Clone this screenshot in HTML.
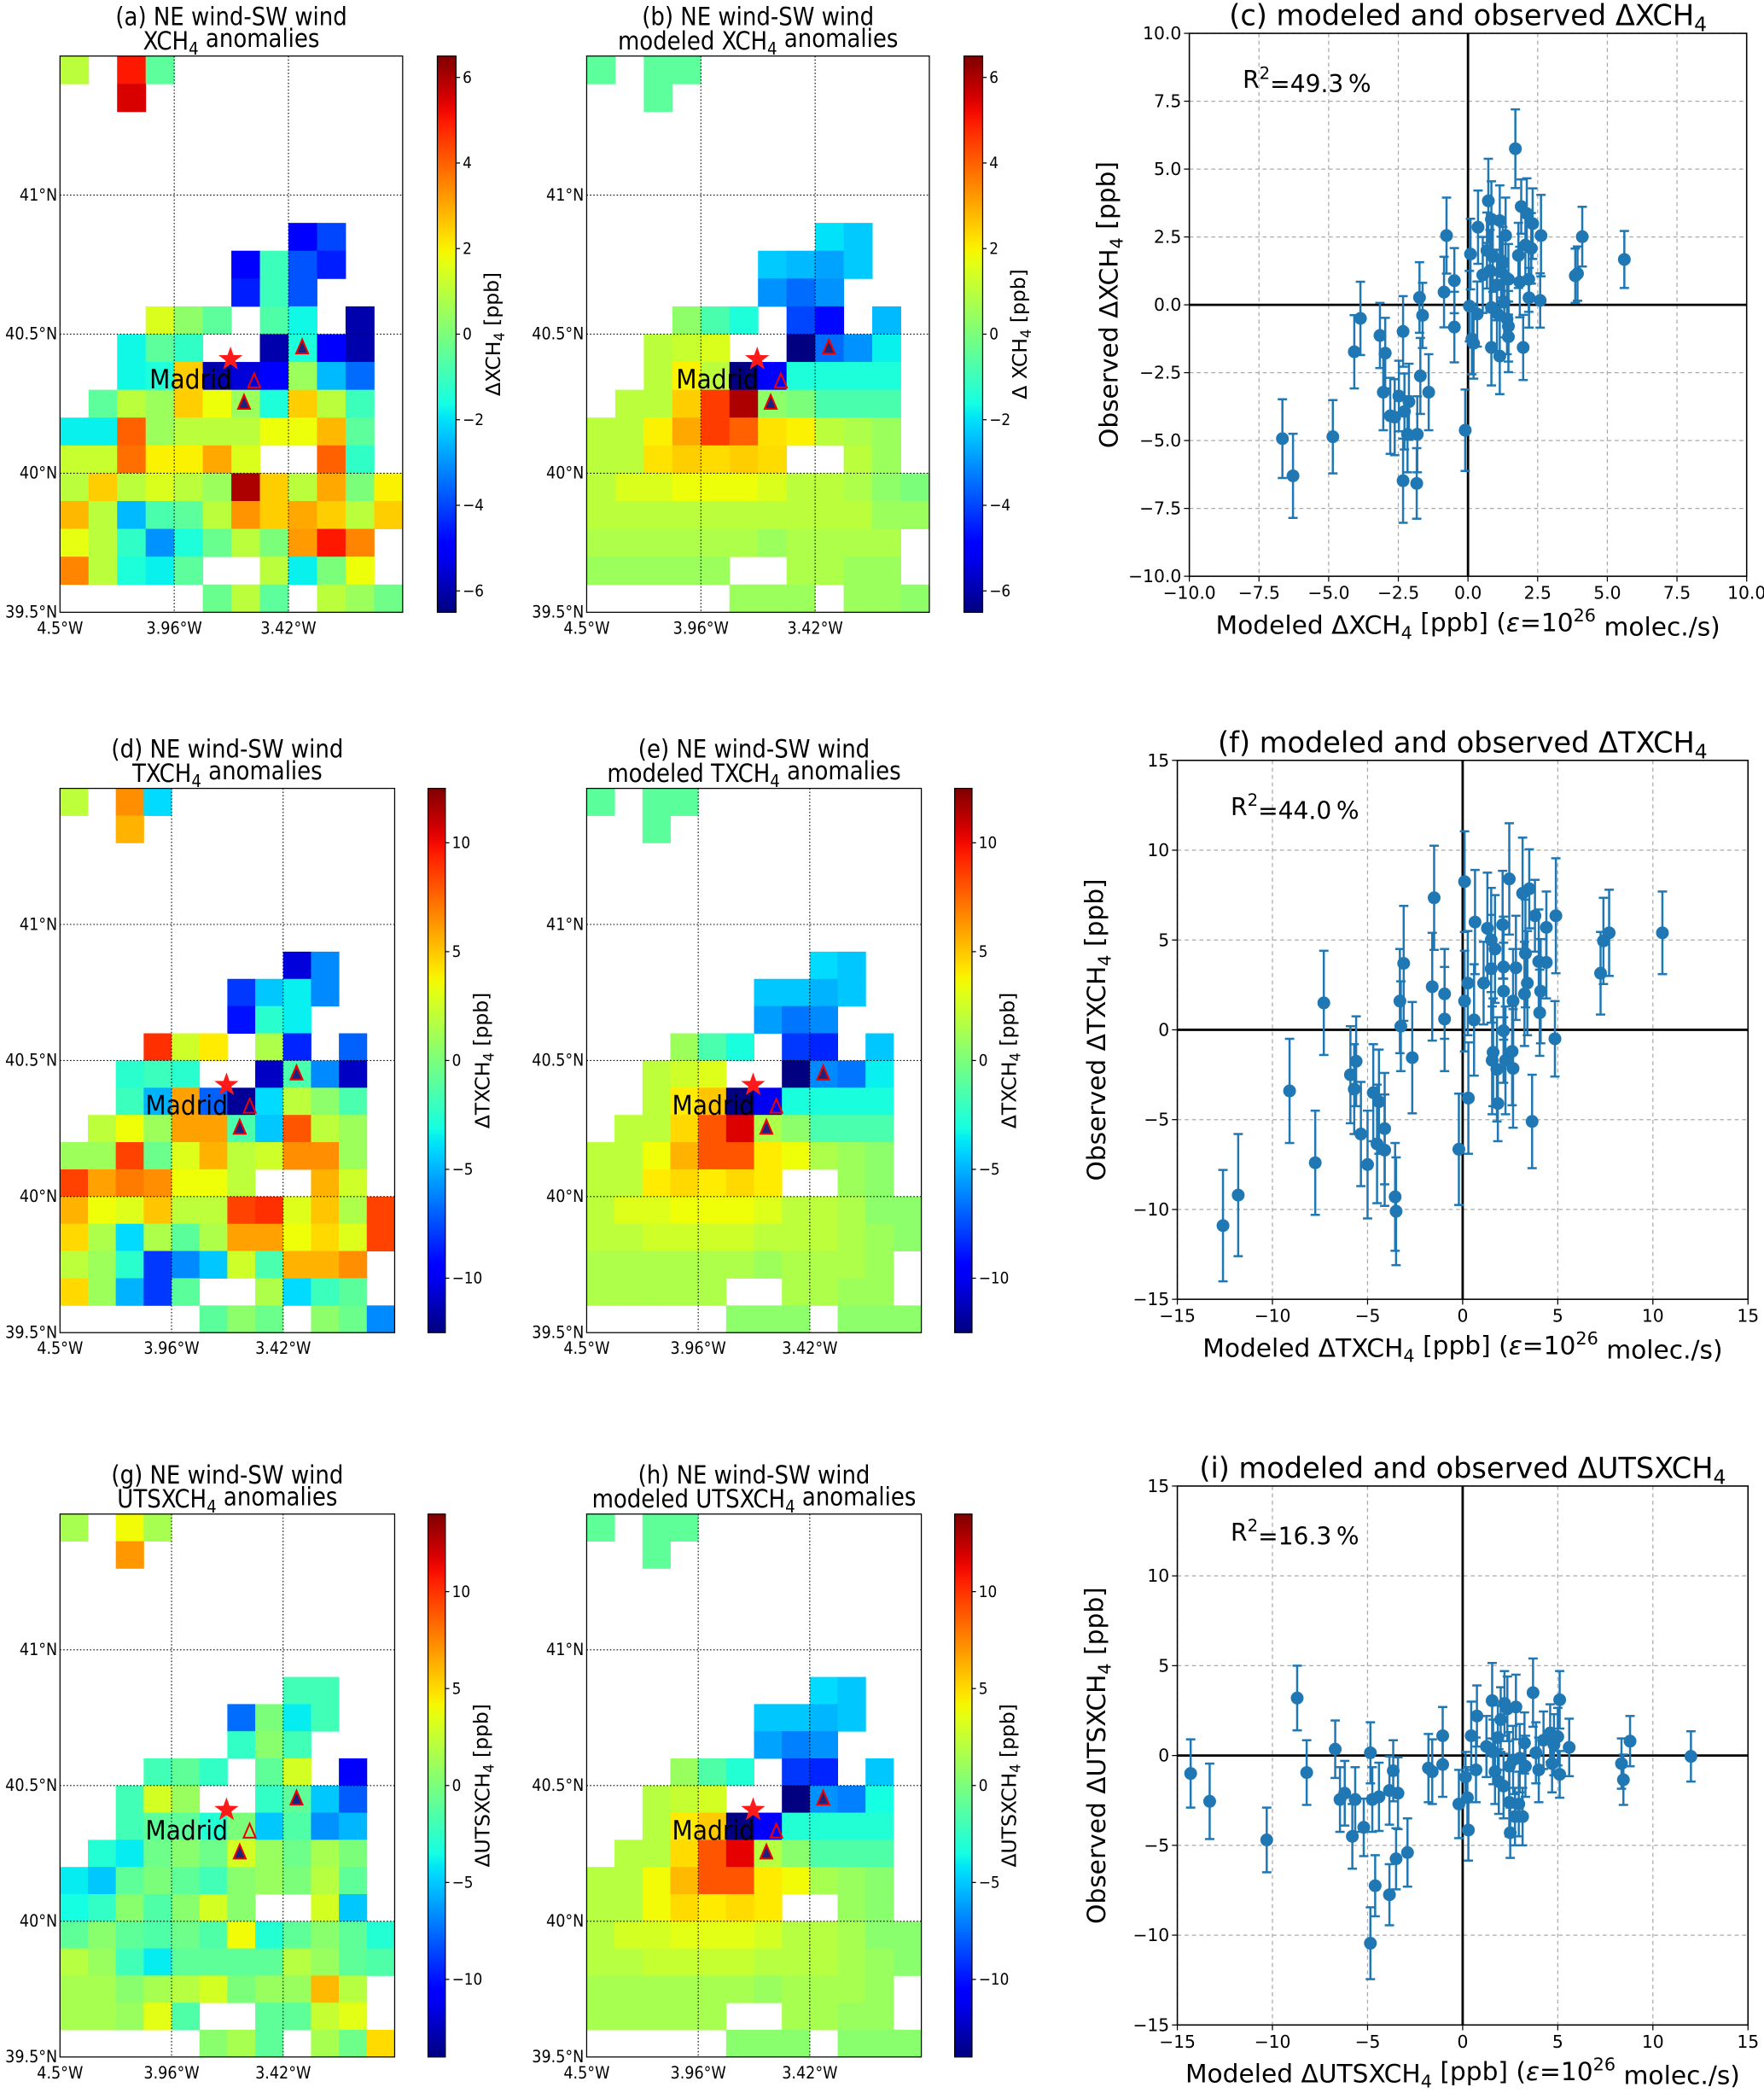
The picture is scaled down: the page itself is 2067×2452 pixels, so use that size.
<!DOCTYPE html>
<html><head><meta charset="utf-8"><style>
html,body{margin:0;padding:0;background:#fff}
svg{display:block}
text{font-family:"DejaVu Sans","Liberation Sans",sans-serif;fill:#000}
.mt{font-stretch:condensed}
</style></head><body>
<svg id="fig" xmlns="http://www.w3.org/2000/svg" width="2067" height="2452" viewBox="0 0 1323 1569" preserveAspectRatio="none">
<defs id="defs"></defs>
</svg>
<script>
// ---------- map data (rows top->bottom, 12 cols, null = no data) ----------
const N=null;
const mapA=[
[1,N,5,-0.5,N,N,N,N,N,N,N,N],[N,N,5.5,N,N,N,N,N,N,N,N,N],
[N,N,N,N,N,N,N,N,N,N,N,N],[N,N,N,N,N,N,N,N,N,N,N,N],[N,N,N,N,N,N,N,N,N,N,N,N],[N,N,N,N,N,N,N,N,N,N,N,N],
[N,N,N,N,N,N,N,N,-5,-4,N,N],
[N,N,N,N,N,N,-5,-1,-3.8,-4.5,N,N],
[N,N,N,N,N,N,-4.5,-1,-3.8,N,N,N],
[N,N,N,1.5,0.3,-0.5,N,-0.7,-1.7,N,-6,N],
[N,N,-1.7,-0.5,-1.2,N,N,-6,-1.5,-5,-6,N],
[N,N,-1.7,-1.5,2.5,-6,-5.5,-5,0.5,-2.5,-3.5,N],
[N,-0.5,1,0.5,2.5,1.8,0.5,-1.5,2.5,1,-1,N],
[-1.8,-1.8,4,0.5,1,1,1,1.8,1.8,2.8,-0.5,N],
[1.2,1.2,3.8,2,2,3,1.5,N,N,4,-1.2,N],
[1,2.5,1,1.5,1,0.5,6,2.5,1,3,0,2],
[2.8,1,-2.5,-0.8,-0.5,1,3.3,2.5,3,2.5,1,2.5],
[1.7,1,-1.2,-3,-1.5,-0.3,1,0,3.2,5,3.5,N],
[3.5,1,-1.5,-1.8,-0.5,N,N,1,-1.8,0,1.8,N],
[N,N,N,N,N,-0.3,1,-0.5,N,1,0.5,-0.2]];
const mapB=[
[-0.5,N,-0.5,-0.5,N,N,N,N,N,N,N,N],[N,N,-0.5,N,N,N,N,N,N,N,N,N],
[N,N,N,N,N,N,N,N,N,N,N,N],[N,N,N,N,N,N,N,N,N,N,N,N],[N,N,N,N,N,N,N,N,N,N,N,N],[N,N,N,N,N,N,N,N,N,N,N,N],
[N,N,N,N,N,N,N,N,-2,-2.3,N,N],
[N,N,N,N,N,N,-2.3,-2.5,-2.8,-2.3,N,N],
[N,N,N,N,N,N,-3,-3.5,-3,N,N,N],
[N,N,N,0.3,-0.8,-1.5,N,-4,-4.8,N,-2.5,N],
[N,N,1,1.2,1.5,N,N,-6.5,-3.5,-3,-1.8,N],
[N,N,1,2,1,-6.5,-5,-1.5,-1.5,-1.5,-1.5,N],
[N,1,1,2.5,4.5,6,0.3,0,-0.8,-0.8,-0.8,N],
[1,1,2,3,4.5,4,2.2,2,1,0.8,0.5,N],
[1,1,2.2,2.5,2.3,2.5,2.3,N,N,1,0.5,N],
[1,1.5,1.5,1.8,1.8,1.8,1.5,1,1,0.8,0.3,0],
[1,1,1,1,1,1,1,1,1,1,0.5,0.5],
[0.8,0.8,0.8,0.8,0.8,0.8,0.5,0.8,0.8,0.8,0.8,N],
[0.5,0.5,0.5,0.5,0.5,N,N,0.8,0.8,0.5,0.5,N],
[N,N,N,N,N,0.5,0.5,0.5,N,0.5,0.5,0.3]];
const mapD=[
[2,N,6.5,-4,N,N,N,N,N,N,N,N],[N,N,5.5,N,N,N,N,N,N,N,N,N],
[N,N,N,N,N,N,N,N,N,N,N,N],[N,N,N,N,N,N,N,N,N,N,N,N],[N,N,N,N,N,N,N,N,N,N,N,N],[N,N,N,N,N,N,N,N,N,N,N,N],
[N,N,N,N,N,N,N,N,-10.5,-6,N,N],
[N,N,N,N,N,N,-8,-4.5,-3.5,-6,N,N],
[N,N,N,N,N,N,-9,-2.5,-3.5,N,N,N],
[N,N,N,9,2.5,4,N,1.5,-8.5,N,-7,N],
[N,N,-2.5,-2,-2.5,N,N,-11,-1.5,-6,-11,N],
[N,N,-2,-5,6,-7,-12,-4,2,0.5,-1.5,N],
[N,2,3.5,1,6,6,-1.5,-4.5,8,2,1,N],
[1,1,8.5,-0.5,3,5.5,2,2.5,6.5,6.5,1,N],
[8.5,6,7,6.5,3.5,3.5,2,N,N,5.5,2.5,N],
[5.5,3.5,3,5,2,2,8.5,9,3,5,1.5,8.5],
[4.5,1.5,-4,1.5,-1,1.5,6,6,3.5,4.5,3,8.5],
[2,1,-2.5,-8,-6,-4.5,2.5,-1.5,5.5,5.5,6.5,N],
[4.5,1,-5,-8,-1,N,N,1.5,-4,-2,-1,N],
[N,N,N,N,N,-1,0.5,-0.5,N,0.5,-0.5,-6]];
const mapE=[
[-1,N,-1,-1,N,N,N,N,N,N,N,N],[N,N,-1,N,N,N,N,N,N,N,N,N],
[N,N,N,N,N,N,N,N,N,N,N,N],[N,N,N,N,N,N,N,N,N,N,N,N],[N,N,N,N,N,N,N,N,N,N,N,N],[N,N,N,N,N,N,N,N,N,N,N,N],
[N,N,N,N,N,N,N,N,-4,-4.5,N,N],
[N,N,N,N,N,N,-4.5,-4.5,-5,-4.5,N,N],
[N,N,N,N,N,N,-5.5,-6.5,-6,N,N,N],
[N,N,N,1,-1.5,-3,N,-8,-8.5,N,-4.5,N],
[N,N,2,2.5,3,N,N,-12.5,-6,-6.5,-3.5,N],
[N,N,2,4,5,-12.5,-10,-3,-3,-3,-3,N],
[N,2,2,4.5,8,10.5,1.5,0.5,-1.5,-1.5,-1.5,N],
[2,2,3.5,5.5,8,8,4,3.5,1.5,1,0.5,N],
[2,2,4,4.5,4,4.5,4,N,N,1,0.5,N],
[2,3,3,3.5,3.5,3.5,3,2,2,1.5,0.5,0.5],
[2,2,2.5,2.5,2.5,2.5,2,2,2,1.5,1,0.5],
[1.5,1.5,1.5,1.5,1.5,1.5,1,1.5,1.5,1.5,1,N],
[1.5,1.5,1.5,1.5,1.5,N,N,1.5,1.5,1,1,N],
[N,N,N,N,N,0.5,0.5,0.5,N,0.5,0.5,0.5]];
const mapG=[
[1.5,N,4,1.5,N,N,N,N,N,N,N,N],[N,N,7,N,N,N,N,N,N,N,N,N],
[N,N,N,N,N,N,N,N,N,N,N,N],[N,N,N,N,N,N,N,N,N,N,N,N],[N,N,N,N,N,N,N,N,N,N,N,N],[N,N,N,N,N,N,N,N,N,N,N,N],
[N,N,N,N,N,N,N,N,-2,-2,N,N],
[N,N,N,N,N,N,-7.5,0,-4,-2,N,N],
[N,N,N,N,N,N,-2.5,0.5,-2,N,N,N],
[N,N,N,-2,-1,-2.5,N,-1,3,N,-11,N],
[N,N,-2,3,1,N,N,-2.5,-1,-5,-8,N],
[N,N,-2,-1,-1,-3,0,-5,-1.5,-6.5,-5.5,N],
[N,-3,-4,-0.5,0.5,-0.5,3,1,-0.5,1.5,0,N],
[-4,-5,-1,0,-1,-2,0.5,1,0,2,-1,N],
[-3.5,-2.5,0.5,-1.5,0.5,3,0.5,N,N,3,-5,N],
[-1,0.5,-1,-1.5,-0.5,-1.5,4,-3,-1,0.5,-1,-3],
[2,1,-2,-4,-1,-1,-1,-1,2,1,-1,-1.5],
[1.5,1.5,0.5,1.5,2,3,0,1,1,6,2,N],
[1.5,1.5,1,3.5,-1.5,N,N,-1,-1,2.5,3.5,N],
[N,N,N,N,N,0.5,1.5,-1,N,1.5,-0.5,5]];
const mapH=[
[-1,N,-1,-1,N,N,N,N,N,N,N,N],[N,N,-1,N,N,N,N,N,N,N,N,N],
[N,N,N,N,N,N,N,N,N,N,N,N],[N,N,N,N,N,N,N,N,N,N,N,N],[N,N,N,N,N,N,N,N,N,N,N,N],[N,N,N,N,N,N,N,N,N,N,N,N],
[N,N,N,N,N,N,N,N,-4.5,-5,N,N],
[N,N,N,N,N,N,-5,-5,-5.5,-5,N,N],
[N,N,N,N,N,N,-6,-7,-6.5,N,N,N],
[N,N,N,1,-1.5,-3,N,-9,-9.5,N,-5,N],
[N,N,2,2.5,3,N,N,-14,-6.5,-7,-3.5,N],
[N,N,2,4.5,5.5,-14,-11,-3,-3,-3,-3,N],
[N,2,2,5,9,11.5,2,0.5,-1.5,-1.5,-1.5,N],
[2,2,4,6,9,9,4.5,4,1.5,1,0.5,N],
[2,2,4,5,4.5,5,4.5,N,N,1,0.5,N],
[2,3,3,3.5,3.5,3.5,3,2,2,1.5,0.5,0.5],
[2,2,2.5,2.5,2.5,2.5,2,2,2,1.5,1,0.5],
[1.5,1.5,1.5,1.5,1.5,1.5,1,1.5,1.5,1.5,1,N],
[1.5,1.5,1.5,1.5,1.5,N,N,1.5,1.5,1,1,N],
[N,N,N,N,N,0.5,0.5,0.5,N,0.5,0.5,0.5]];
const cbTicksA=[6,4,2,0,-2,-4,-6];
const cbTicksD=[10,5,0,-5,-10];
const cbTicksG=[10,5,0,-5,-10];
const lonTicks=[-4.5,-3.96,-3.42];
const lonLabels=["4.5°W","3.96°W","3.42°W"];
const latTicks=[41,40.5,40,39.5];
const latLabels=["41°N","40.5°N","40°N","39.5°N"];
const starLL=[-3.694,40.41];
const triFilledLL=[[-3.355,40.452],[-3.63,40.253]];
const triOpenLL=[-3.582,40.33];

// ---------- scatter data ----------
const cX=[1.70,-0.77,0.36,0.09,0.73,0.84,1.14,1.35,1.91,2.11,2.32,2.62,4.10,3.93,3.85,5.61,0.68,0.89,1.81,2.27,0.53,0.79,1.19,1.45,1.86,2.18,2.19,2.59,-0.49,-0.86,-1.74,-1.63,-3.86,-4.08,-3.16,-2.97,-2.33,-0.49,0.05,0.33,0.14,0.20,0.84,1.04,1.40,1.45,1.45,0.84,1.14,1.98,-1.71,-1.41,-3.04,-2.48,-2.12,-2.79,-2.63,-2.28,-2.17,-1.82,-0.10,-4.85,-6.66,-6.28,-2.33,-1.84,1.04,1.30,1.25,2.06];
const cY=[5.75,2.55,2.86,1.87,3.83,3.15,3.10,2.55,3.62,3.36,2.99,2.55,2.51,1.15,1.07,1.67,2.00,1.78,1.82,2.08,1.10,1.26,1.21,0.94,0.84,0.94,0.26,0.16,0.89,0.47,0.27,-0.39,-0.50,-1.73,-1.13,-1.78,-0.98,-0.82,-0.05,-0.34,-1.26,-1.42,-0.10,-0.31,-0.52,-0.79,-1.18,-1.57,-1.89,-1.57,-2.62,-3.22,-3.22,-3.36,-3.57,-4.09,-4.14,-3.93,-4.77,-4.77,-4.62,-4.86,-4.93,-6.30,-6.48,-6.58,0.73,0.10,1.57,2.20];
const cErr=[1.45,1.4,1.35,1.3,1.55,1.4,1.3,1.4,1.0,1.3,1.3,1.5,1.1,1.0,1.0,1.05,1.4,1.3,1.2,1.3,1.4,1.5,1.3,1.3,1.3,1.2,1.1,1.0,1.2,1.3,1.3,1.2,1.35,1.35,1.2,1.3,1.3,1.3,1.3,1.2,1.3,1.3,1.4,1.4,1.3,1.3,1.3,1.4,1.4,1.2,1.4,1.4,1.4,1.3,1.4,1.4,1.4,1.4,1.4,1.4,1.5,1.35,1.45,1.55,1.55,1.3,1.3,1.3,1.3,1.3];
const fX=[-12.6,-11.8,-9.1,-7.75,-7.3,-5.9,-5.6,-5.7,-5.35,-5.0,-4.7,-4.5,-4.4,-4.1,-4.1,-3.55,-3.5,-3.3,-3.25,-3.1,-2.65,-1.6,-1.5,-0.95,-0.95,-0.2,0.1,0.1,0.27,0.3,0.6,0.65,1.1,1.3,1.5,1.7,1.5,2.1,2.15,2.15,2.65,2.8,2.15,1.6,1.55,1.8,1.85,2.25,2.6,2.65,2.45,3.15,3.5,3.3,3.4,3.25,3.8,4.0,4.1,4.05,4.4,4.4,4.9,4.85,3.65,7.25,7.4,7.7,10.5];
const fY=[-10.9,-9.2,-3.4,-7.4,1.5,-2.5,-1.75,-3.3,-5.8,-7.5,-3.5,-6.35,-4.0,-5.5,-6.7,-9.3,-10.1,1.6,0.2,3.7,-1.55,2.4,7.35,2.0,0.6,-6.65,8.25,1.6,2.6,-3.8,0.55,6.0,2.6,5.65,5.0,4.5,3.4,5.85,3.5,2.15,1.6,3.45,-0.05,-1.25,-1.7,-2.2,-4.1,-1.7,-1.2,-2.15,8.4,7.6,7.85,4.25,2.6,2.0,6.35,3.8,2.15,0.95,5.7,3.75,6.35,-0.5,-5.1,3.15,4.95,5.4,5.4];
const fErr=[3.1,3.4,2.9,2.9,2.9,2.7,2.5,2.5,2.9,3.0,2.7,3.3,2.9,3.1,3.1,3.0,3.0,2.9,2.5,3.2,3.1,3.0,2.9,2.5,2.9,3.1,2.8,2.8,2.9,3.1,3.1,2.9,2.3,3.1,2.9,3.0,3.0,3.0,2.8,2.7,2.9,2.9,2.9,3.0,3.0,2.9,2.1,3.0,3.0,3.3,3.1,3.1,2.2,3.0,2.9,2.9,2.0,2.9,2.9,2.4,2.0,2.0,3.2,2.1,2.6,2.3,2.4,2.4,2.3];
const iX=[-14.3,-13.3,-10.3,-8.7,-8.2,-6.7,-6.45,-6.2,-5.65,-5.8,-5.2,-4.85,-4.75,-4.4,-4.6,-4.85,-3.85,-3.85,-3.65,-3.4,-3.5,-2.9,-1.8,-1.6,-1.05,-1.05,-0.2,0.15,0.25,0.3,0.45,0.75,0.7,1.25,1.55,1.6,1.7,1.85,2.0,2.2,2.35,2.8,1.9,2.15,2.45,2.65,2.45,2.95,2.75,3.15,2.5,3.0,3.25,3.3,3.7,3.85,4.0,4.25,4.6,4.8,4.7,5.1,5.1,5.0,5.6,8.35,8.45,8.8,12.0];
const iY=[-1.0,-2.55,-4.7,3.2,-0.95,0.35,-2.45,-2.1,-2.45,-4.5,-4.0,0.15,-2.45,-2.3,-7.25,-10.45,-7.75,-1.95,-0.85,-2.1,-5.75,-5.4,-0.7,-0.9,1.1,-0.5,-2.7,-1.2,-2.35,-4.15,1.1,2.2,-0.8,0.5,3.05,0.2,-0.9,1.0,2.0,2.9,2.6,2.7,-1.45,-1.7,-0.6,-0.25,-2.6,-2.7,-3.4,-3.4,-4.3,-0.15,0.7,-0.6,3.5,0.15,-0.8,0.85,1.25,0.6,-0.45,-1.05,3.1,1.05,0.45,-0.45,-1.35,0.8,-0.05];
const iErr=[1.9,2.1,1.8,1.8,1.8,1.6,1.8,1.8,1.8,1.8,1.6,1.7,1.8,1.9,1.7,2.0,1.7,1.9,1.7,2.0,1.7,1.9,1.9,1.8,1.6,1.8,1.9,1.4,1.7,1.7,1.9,1.7,1.8,1.7,2.1,1.8,1.8,1.8,1.8,1.8,1.8,1.8,1.8,1.8,1.9,1.9,1.9,1.8,1.6,1.6,1.4,1.9,1.7,1.7,1.9,1.7,1.8,1.6,1.6,1.7,1.6,1.3,1.6,1.6,1.6,1.4,1.4,1.4,1.4];

// ---------- helpers ----------
const NS='http://www.w3.org/2000/svg';
const svg=document.getElementById('fig');
const defs=document.getElementById('defs');
function mk(tag,attrs,parent){const e=document.createElementNS(NS,tag);for(const k in attrs)e.setAttribute(k,attrs[k]);(parent||svg).appendChild(e);return e;}
function interp(t,pts){for(let i=1;i<pts.length;i++){if(t<=pts[i][0]){const a=pts[i-1],b=pts[i];return a[1]+(b[1]-a[1])*(t-a[0])/(b[0]-a[0]);}}return pts[pts.length-1][1];}
function jet(t){t=Math.max(0,Math.min(1,t));
 const r=interp(t,[[0,0],[0.35,0],[0.66,1],[0.89,1],[1,0.5]]);
 const g=interp(t,[[0,0],[0.125,0],[0.375,1],[0.64,1],[0.91,0],[1,0]]);
 const b=interp(t,[[0,0.5],[0.11,1],[0.34,1],[0.65,0],[1,0]]);
 return 'rgb('+Math.round(r*255)+','+Math.round(g*255)+','+Math.round(b*255)+')';}
function richText(parent,x,y,parts,attrs){
 const t=mk('text',Object.assign({x:x,y:y},attrs||{}),parent);
 parts.forEach(p=>{const s=mk('tspan',{},t);
  if(p[1]==='sub'){s.setAttribute('font-size','70%');s.setAttribute('dy','0.3em');}
  if(p[1]==='sup'){s.setAttribute('font-size','70%');s.setAttribute('dy','-0.55em');}
  if(p[1]==='back'){s.setAttribute('dy','-0.3em');}
  if(p[1]==='backsup'){s.setAttribute('dy','0.55em');}
  if(p[1]==='it'){s.setAttribute('font-style','italic');}
  s.textContent=p[0];});
 return t;}

const grad=mk('linearGradient',{id:'jetgrad',x1:0,y1:1,x2:0,y2:0},defs);
for(let i=0;i<=40;i++){mk('stop',{offset:(i/40),'stop-color':jet(i/40)},grad);}

function drawMap(cfg){
 const g=mk('g',{});
 
 
 const W=cfg.x1-cfg.x0,H=cfg.y1-cfg.y0;
 const lonS=v=>cfg.x0+(v+4.5)/(0.135*12)*W;
 const latS=v=>cfg.y0+(41.5-v)/2.0*H;
 const cw=W/12,ch=H/20;
 mk('rect',{x:cfg.x0,y:cfg.y0,width:W,height:H,fill:'#fff'},g);
 cfg.data.forEach((row,r)=>row.forEach((v,c)=>{if(v===null)return;
  const cell=mk('rect',{x:lonS(-4.5+c*0.135),y:latS(41.5-r*0.1),width:cw+0.3,height:ch+0.3,fill:jet((v+cfg.vmax)/(2*cfg.vmax))},g);
  
  }));
 lonTicks.slice(1).forEach(l=>mk('line',{x1:lonS(l),x2:lonS(l),y1:cfg.y0,y2:cfg.y1,stroke:'#000','stroke-width':0.7,'stroke-dasharray':'1,1.5'},g));
 [41,40.5,40].forEach(l=>mk('line',{x1:cfg.x0,x2:cfg.x1,y1:latS(l),y2:latS(l),stroke:'#000','stroke-width':0.7,'stroke-dasharray':'1,1.5'},g));
 mk('rect',{x:cfg.x0,y:cfg.y0,width:W,height:H,fill:'none',stroke:'#000','stroke-width':0.8},g);
 lonTicks.forEach((l,i)=>{const t=mk('text',{x:lonS(l),y:cfg.y1+16,'font-size':12.5,'text-anchor':'middle',class:'mt'},g);t.textContent=lonLabels[i];});
 latTicks.forEach((l,i)=>{const t=mk('text',{x:cfg.x0-2,y:latS(l)+4,'font-size':12.5,'text-anchor':'end',class:'mt'},g);t.textContent=latLabels[i];});
 const cx=(cfg.x0+cfg.x1)/2;
 const t1=mk('text',{x:cx,y:cfg.y0-23,'font-size':18.5,'text-anchor':'middle',class:'mt'},g);t1.textContent=cfg.t1;
 
 richText(g,cx,cfg.y0-5,cfg.t2,{'font-size':18.5,'text-anchor':'middle',class:'mt'});
 const sx=lonS(starLL[0]),sy=latS(starLL[1]);
 let pts=[];for(let k=0;k<10;k++){const rr=k%2?3.8:9.5;const a=-Math.PI/2+k*Math.PI/5;pts.push((sx+rr*Math.cos(a)).toFixed(1)+','+(sy+rr*Math.sin(a)).toFixed(1));}
 const mt=mk('text',{x:sx+1,y:sy+22,'font-size':20,'text-anchor':'end',class:'mt'},g);mt.textContent='Madrid';
 
 const star=mk('polygon',{points:pts.join(' '),fill:'#ff1a1a'},g);
 
 function tri(ll,fill){const x=lonS(ll[0]),y=latS(ll[1]);
  const p=mk('polygon',{points:(x)+','+(y-6)+' '+(x-4.5)+','+(y+4.5)+' '+(x+4.5)+','+(y+4.5),fill:fill,stroke:'#e00','stroke-width':1.3},g);
  }
 triFilledLL.forEach(ll=>tri(ll,'#1a237e'));
 tri(triOpenLL,'none');
 const cb=mk('g',{},g);
 
 mk('rect',{x:cfg.cbx,y:cfg.y0,width:cfg.cbw,height:H,fill:'url(#jetgrad)',stroke:'#000','stroke-width':0.8},cb);
 cfg.ticks.forEach(v=>{const y=cfg.y0+(cfg.vmax-v)/(2*cfg.vmax)*H;
  mk('line',{x1:cfg.cbx+cfg.cbw,x2:cfg.cbx+cfg.cbw+3,y1:y,y2:y,stroke:'#000','stroke-width':0.8},cb);
  const t=mk('text',{x:cfg.cbx+cfg.cbw+5,y:y+4,'font-size':12,class:'mt'},cb);t.textContent=v<0?'\u2212'+(-v):String(v);});
 const lx=cfg.cbx+cfg.cbw+33,ly=(cfg.y0+cfg.y1)/2;
 const lab=richText(cb,0,0,cfg.cbl,{'font-size':15,'text-anchor':'middle',transform:'translate('+lx+','+ly+') rotate(-90)'});
 
}

const SUB4=['4','sub'];
drawMap({name:'map-a',data:mapA,x0:45,x1:302,y0:42,y1:459,cbx:328,cbw:14,vmax:6.5,ticks:cbTicksA,t1:'(a) NE wind-SW wind',t2:[['XCH'],SUB4,[' anomalies','back']],cbl:[['\u0394XCH'],SUB4,[' [ppb]','back']]});
drawMap({name:'map-b',data:mapB,x0:440,x1:697,y0:42,y1:459,cbx:723,cbw:14,vmax:6.5,ticks:cbTicksA,t1:'(b) NE wind-SW wind',t2:[['modeled XCH'],SUB4,[' anomalies','back']],cbl:[['\u0394 XCH'],SUB4,[' [ppb]','back']]});
drawMap({name:'map-d',data:mapD,x0:45,x1:296,y0:591,y1:999,cbx:321,cbw:13,vmax:12.5,ticks:cbTicksD,t1:'(d) NE wind-SW wind',t2:[['TXCH'],SUB4,[' anomalies','back']],cbl:[['\u0394TXCH'],SUB4,[' [ppb]','back']]});
drawMap({name:'map-e',data:mapE,x0:440,x1:691,y0:591,y1:999,cbx:716,cbw:13,vmax:12.5,ticks:cbTicksD,t1:'(e) NE wind-SW wind',t2:[['modeled TXCH'],SUB4,[' anomalies','back']],cbl:[['\u0394TXCH'],SUB4,[' [ppb]','back']]});
drawMap({name:'map-g',data:mapG,x0:45,x1:296,y0:1135,y1:1542,cbx:321,cbw:13,vmax:14,ticks:cbTicksG,t1:'(g) NE wind-SW wind',t2:[['UTSXCH'],SUB4,[' anomalies','back']],cbl:[['\u0394UTSXCH'],SUB4,[' [ppb]','back']]});
drawMap({name:'map-h',data:mapH,x0:440,x1:691,y0:1135,y1:1542,cbx:716,cbw:13,vmax:14,ticks:cbTicksG,t1:'(h) NE wind-SW wind',t2:[['modeled UTSXCH'],SUB4,[' anomalies','back']],cbl:[['\u0394UTSXCH'],SUB4,[' [ppb]','back']]});

function fmt(v,dec){const s=Math.abs(v).toFixed(dec);return (v<0?'\u2212':'')+s;}
function drawScatter(cfg){
 const g=mk('g',{});
 
 
 const xs=v=>cfg.x0+(v-cfg.min)/(cfg.max-cfg.min)*(cfg.x1-cfg.x0);
 const ys=v=>cfg.y1-(v-cfg.min)/(cfg.max-cfg.min)*(cfg.y1-cfg.y0);
 cfg.ticks.forEach(v=>{
  mk('line',{x1:xs(v),x2:xs(v),y1:cfg.y0,y2:cfg.y1,stroke:'#aaa','stroke-width':0.8,'stroke-dasharray':'3,2.5'},g);
  mk('line',{x1:cfg.x0,x2:cfg.x1,y1:ys(v),y2:ys(v),stroke:'#aaa','stroke-width':0.8,'stroke-dasharray':'3,2.5'},g);
  mk('line',{x1:xs(v),x2:xs(v),y1:cfg.y1,y2:cfg.y1+4,stroke:'#000','stroke-width':0.8},g);
  mk('line',{x1:cfg.x0-4,x2:cfg.x0,y1:ys(v),y2:ys(v),stroke:'#000','stroke-width':0.8},g);
  const tx=mk('text',{x:xs(v),y:cfg.y1+17,'font-size':13,'text-anchor':'middle'},g);tx.textContent=fmt(v,cfg.dec);
  const ty=mk('text',{x:cfg.x0-6,y:ys(v)+4.5,'font-size':13,'text-anchor':'end'},g);ty.textContent=fmt(v,cfg.dec);
 });
 mk('line',{x1:xs(0),x2:xs(0),y1:cfg.y0,y2:cfg.y1,stroke:'#000','stroke-width':1.8},g);
 mk('line',{x1:cfg.x0,x2:cfg.x1,y1:ys(0),y2:ys(0),stroke:'#000','stroke-width':1.8},g);
 cfg.X.forEach((x,i)=>{const y=cfg.Y[i],e=cfg.E[i];const px=xs(x);
  const eb=mk('g',{stroke:'#1f77b4','stroke-width':1.6},g);
  
  mk('line',{x1:px,x2:px,y1:ys(y-e),y2:ys(y+e)},eb);
  mk('line',{x1:px-3.5,x2:px+3.5,y1:ys(y-e),y2:ys(y-e)},eb);
  mk('line',{x1:px-3.5,x2:px+3.5,y1:ys(y+e),y2:ys(y+e)},eb);});
 cfg.X.forEach((x,i)=>{const c=mk('circle',{cx:xs(x),cy:ys(cfg.Y[i]),r:4.8,fill:'#1f77b4'},g);
  });
 mk('rect',{x:cfg.x0,y:cfg.y0,width:cfg.x1-cfg.x0,height:cfg.y1-cfg.y0,fill:'none',stroke:'#000','stroke-width':1},g);
 const cx=(cfg.x0+cfg.x1)/2;
 const tt=richText(g,cx,cfg.y0-6,cfg.title,{'font-size':21.5,'text-anchor':'middle'});
 
 const r2=richText(g,cfg.x0+40,cfg.y0+41,[['R'],['2','sup'],['='+cfg.r2+'\u2009%','backsup']],{'font-size':18});
 
 const xl=richText(g,cx,cfg.y1+43,cfg.xl,{'font-size':19,'text-anchor':'middle'});
 
 const yl=richText(g,0,0,cfg.yl,{'font-size':19,'text-anchor':'middle',transform:'translate('+(cfg.x0-54)+','+((cfg.y0+cfg.y1)/2)+') rotate(-90)'});
 
}
const ticksC=[-10,-7.5,-5,-2.5,0,2.5,5,7.5,10];
const ticksF=[-15,-10,-5,0,5,10,15];
function xlab(sp){return [['Modeled \u0394'+sp+'CH'],SUB4,[' [ppb] (','back'],['\u03b5','it'],['=10'],['26','sup'],[' molec./s)','backsup']];}
drawScatter({name:'scatter-c',x0:892,x1:1310,y0:25,y1:432,min:-10,max:10,ticks:ticksC,dec:1,X:cX,Y:cY,E:cErr,r2:'49.3',
 title:[['(c) modeled and observed \u0394XCH'],SUB4],xl:xlab('X'),yl:[['Observed \u0394XCH'],SUB4,[' [ppb]','back']]});
drawScatter({name:'scatter-f',x0:883,x1:1311,y0:570,y1:974,min:-15,max:15,ticks:ticksF,dec:0,X:fX,Y:fY,E:fErr,r2:'44.0',
 title:[['(f) modeled and observed \u0394TXCH'],SUB4],xl:xlab('TX'),yl:[['Observed \u0394TXCH'],SUB4,[' [ppb]','back']]});
drawScatter({name:'scatter-i',x0:883,x1:1311,y0:1114,y1:1518,min:-15,max:15,ticks:ticksF,dec:0,X:iX,Y:iY,E:iErr,r2:'16.3',
 title:[['(i) modeled and observed \u0394UTSXCH'],SUB4],xl:xlab('UTSX'),yl:[['Observed \u0394UTSXCH'],SUB4,[' [ppb]','back']]});
</script>
</body></html>
